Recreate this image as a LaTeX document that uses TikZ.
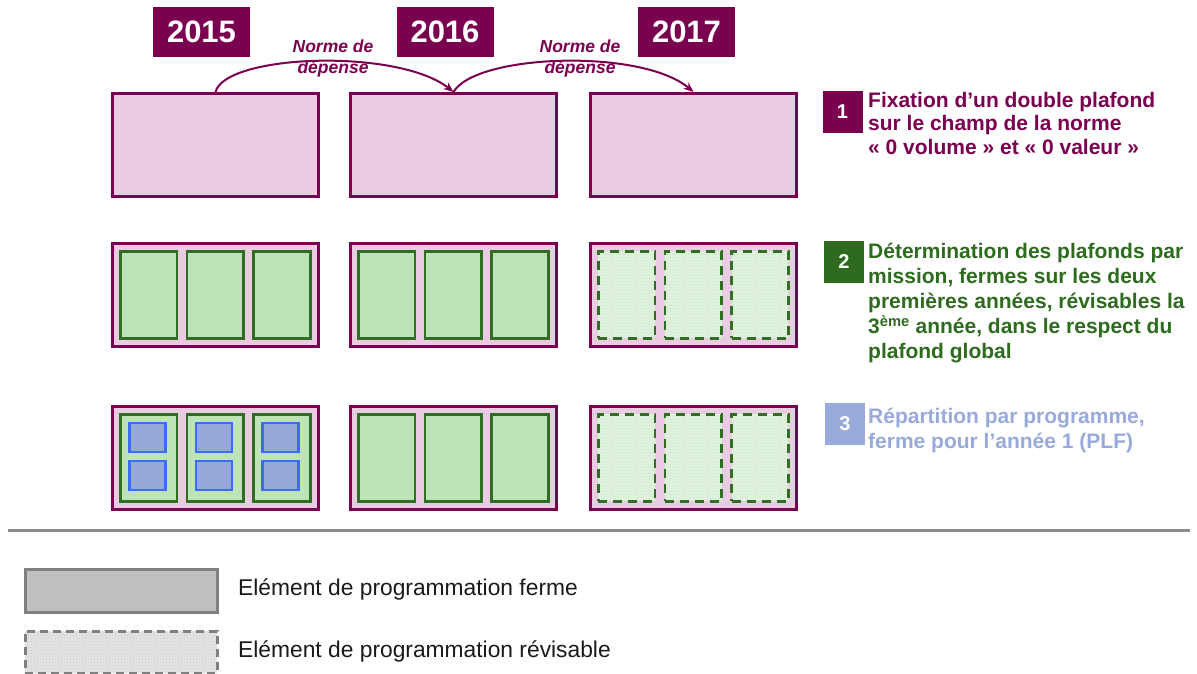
\documentclass[tikz,border=0pt]{standalone}
\usepackage{fontspec}
\setmainfont{Liberation Sans}
\usetikzlibrary{arrows.meta,patterns}
\definecolor{purp}{HTML}{7A0050}
\definecolor{pinkfill}{HTML}{E9CBE2}
\definecolor{gborder}{HTML}{2F6E23}
\definecolor{gfill}{HTML}{BDE3B9}
\definecolor{grevfill}{HTML}{E2F3E0}
\definecolor{grevdot}{HTML}{C2E2BE}
\definecolor{bborder}{HTML}{3B6BFF}
\definecolor{bfill}{HTML}{95A9D8}
\definecolor{itemblue}{HTML}{98AADB}
\definecolor{itemgreen}{HTML}{2E6B1F}
\definecolor{leggray}{HTML}{808080}
\definecolor{legfill}{HTML}{C0C0C0}
\definecolor{legrev}{HTML}{E4E4E4}
\definecolor{legdot}{HTML}{C8C8C8}
\definecolor{seprule}{HTML}{8C8C8C}
\definecolor{legtext}{HTML}{1A1A1A}
\begin{document}
\begin{tikzpicture}[x=1pt,y=-1pt,
  outerbox/.style={draw=purp, fill=pinkfill, line width=3pt, minimum width=206pt, minimum height=103pt, anchor=north west, inner sep=0pt},
  firmbox/.style={draw=gborder, fill=gfill, line width=2.6pt, minimum width=56.7pt, minimum height=87pt, anchor=north west, inner sep=0pt},
  revbox/.style={draw=gborder, preaction={fill=grevfill}, pattern=crosshatch dots, pattern color=grevdot, line width=2.6pt, dash pattern=on 9pt off 6pt, minimum width=56.7pt, minimum height=87pt, anchor=north west, inner sep=0pt},
  progbox/.style={draw=bborder, fill=bfill, line width=2.6pt, minimum width=36pt, minimum height=29pt, inner sep=0pt},
  yearbox/.style={fill=purp, text=white, font=\fontsize{31}{36}\selectfont\bfseries, minimum width=97pt, minimum height=50pt, inner sep=0pt},
  numbox/.style={text=white, font=\fontsize{20}{24}\selectfont\bfseries, minimum width=40pt, minimum height=42pt, inner sep=0pt},
  itemtxt/.style={anchor=north west, align=left, inner sep=0pt, font=\fontsize{21}{25}\selectfont\bfseries},
  normlbl/.style={anchor=north, align=center, inner sep=0pt, text=purp, font=\fontsize{17.5}{21}\selectfont\bfseries\itshape},
  arr/.style={draw=purp, line width=2pt, -{Stealth[length=10pt,width=8pt]}},
  legtxt/.style={anchor=west, inner sep=0pt, text=legtext, font=\fontsize{22.8}{27}\selectfont}
]
\useasboundingbox (0,0) rectangle (1197,673);
\fill[white] (0,0) rectangle (1197,673);

% year headers
\node[yearbox] (y1) at (201.5,32) {2015};
\node[yearbox] (y2) at (445,32) {2016};
\node[yearbox] (y3) at (686.5,32) {2017};

% outer boxes
\foreach \c/\x in {1/111,2/349,3/589}{
  \foreach \r/\y in {1/92,2/242,3/405}{
    \node[outerbox] (b\r\c) at (\x,\y) {};
  }
}

% inner mission boxes
\foreach \r/\y in {2/242,3/405}{
  \foreach \c/\x in {1/111,2/349}{
    \foreach \k in {1,2,3}{
      \node[firmbox] (i\r\c\k) at ({\x+8+(\k-1)*66.67},{\y+8}) {};
    }
  }
  \foreach \k in {1,2,3}{
    \node[revbox] (i\r3\k) at ({589+8+(\k-1)*66.67},{\y+8}) {};
  }
}

% programme boxes
\foreach \k in {1,2,3}{
  \node[progbox] (pa\k) at ({111+8+(\k-1)*66.67+28.35},437.5) {};
  \node[progbox] (pb\k) at ({111+8+(\k-1)*66.67+28.35},475.5) {};
}

% arrows
\draw[arr] (b11.north) .. controls +(10,-38) and +(-55,-44) .. (b12.north);
\draw[arr] (b12.north) .. controls +(22,-38) and +(-52,-44) .. (b13.north);
\node[normlbl] (nl1) at (333,40) {Norme de\\dépense};
\node[normlbl] (nl2) at (580,40) {Norme de\\dépense};

% right-hand items
\node[numbox, fill=purp] (n1) at (842.5,111.5) {1};
\node[itemtxt, text=purp, font=\fontsize{21}{23.5}\selectfont\bfseries] (t1) at (868,92) {Fixation d’un double plafond\\sur le champ de la norme\\« 0 volume » et « 0 valeur »};
\node[numbox, fill=itemgreen] (n2) at (844,262) {2};
\node[itemtxt, text=itemgreen] (t2) at (868,243) {Détermination des plafonds par\\mission, fermes sur les deux\\premières années, révisables la\\3\textsuperscript{ème} année, dans le respect du\\plafond global};
\node[numbox, fill=itemblue] (n3) at (845,424) {3};
\node[itemtxt, text=itemblue] (t3) at (868,408) {Répartition par programme,\\ferme pour l’année 1 (PLF)};

% separator
\coordinate (sl) at (8,530);
\coordinate (sr) at (1190,530);
\draw[seprule, line width=3pt] (sl) -- (sr);

% legend
\node[draw=leggray, fill=legfill, line width=2.5pt, minimum width=192pt, minimum height=43pt, anchor=north west, inner sep=0pt] (lg1) at (24,568) {};
\node[draw=leggray, preaction={fill=legrev}, pattern=crosshatch dots, pattern color=legdot, line width=2.5pt, dash pattern=on 8pt off 5pt, minimum width=192pt, minimum height=42pt, anchor=north west, inner sep=0pt] (lg2) at (24,630) {};
\node[legtxt] (lt1) at (238,589) {Elément de programmation ferme};
\node[legtxt] (lt2) at (238,651) {Elément de programmation révisable};
\end{tikzpicture}
\end{document}
